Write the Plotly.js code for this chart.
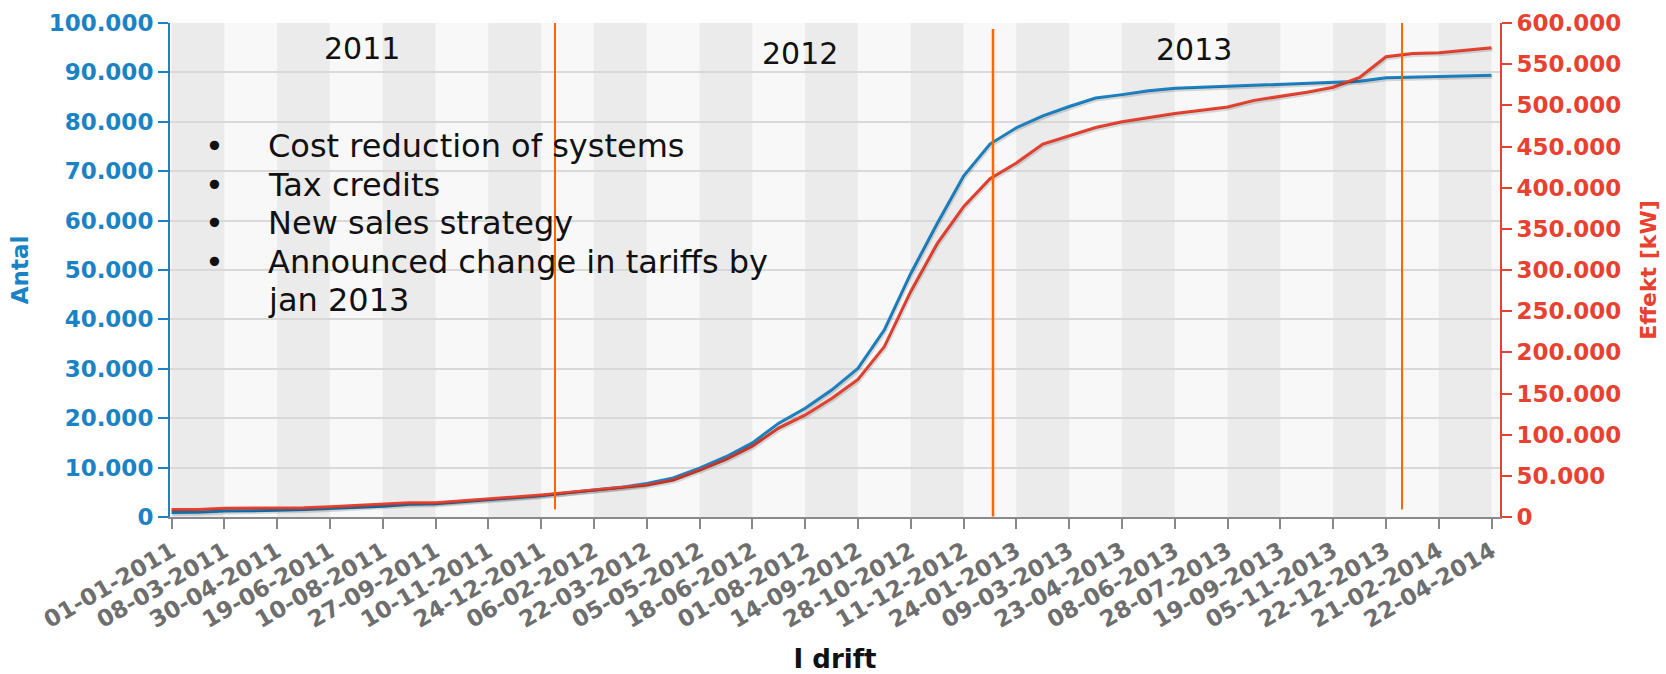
<!DOCTYPE html>
<html>
<head>
<meta charset="utf-8">
<script src="https://cdn.plot.ly/plotly-3.0.1.min.js"></script>
<style>html,body{margin:0;padding:0;background:#fff;}#chart{width:1666px;height:674px;}</style>
</head>
<body>
<div id="chart"></div>
<script>
// Tick labels shown on the x axis (dd-mm-yyyy)
const tickDates = ["01-01-2011","08-03-2011","30-04-2011","19-06-2011","10-08-2011","27-09-2011","10-11-2011","24-12-2011",
  "06-02-2012","22-03-2012","05-05-2012","18-06-2012","01-08-2012","14-09-2012","28-10-2012","11-12-2012",
  "24-01-2013","09-03-2013","23-04-2013","08-06-2013","28-07-2013","19-09-2013","05-11-2013","22-12-2013",
  "21-02-2014","22-04-2014"];

// Sample dates (tick dates plus one reading between each pair)
const sampleDates = ["01-01-2011","03-02-2011","08-03-2011","03-04-2011","30-04-2011","25-05-2011","19-06-2011","15-07-2011",
  "10-08-2011","03-09-2011","27-09-2011","19-10-2011","10-11-2011","02-12-2011","24-12-2011","15-01-2012",
  "06-02-2012","28-02-2012","22-03-2012","13-04-2012","05-05-2012","27-05-2012","18-06-2012","10-07-2012",
  "01-08-2012","23-08-2012","14-09-2012","06-10-2012","28-10-2012","19-11-2012","11-12-2012","02-01-2013",
  "24-01-2013","15-02-2013","09-03-2013","31-03-2013","23-04-2013","16-05-2013","08-06-2013","03-07-2013",
  "28-07-2013","23-08-2013","19-09-2013","12-10-2013","05-11-2013","28-11-2013","22-12-2013","21-01-2014",
  "21-02-2014","23-03-2014","22-04-2014"];

// Antal (number of installations)
const antal = [900,950,1200,1250,1350,1500,1700,2000,2200,2600,2700,3100,3500,3900,4300,4900,
  5400,6000,6800,7900,9900,12200,15000,19000,22000,25700,30100,37900,49300,59400,69000,75500,
  78800,81200,83100,84800,85500,86300,86800,87000,87200,87300,87500,87700,87900,88200,88900,89000,
  89200,89300,89400];

// Effekt [kW] (installed capacity)
const effektKW = [9000,9200,10700,10800,11100,11300,12300,13900,14800,17200,17400,20000,22000,24400,26800,30000,
  32500,35700,39000,45000,57000,70000,86000,108000,124000,144000,167000,207000,274000,332000,377000,411000,
  430000,453000,463000,473000,480000,485000,490000,494000,498000,506000,511000,516000,522000,534000,559000,563000,
  564000,567000,570000];

const yearLabels = ["2011","2012","2013"];
const bulletLines = ["Cost reduction of systems","Tax credits","New sales strategy","Announced change in tariffs by","jan 2013"];

// ---------- layout / styling ----------
const W = 1666, H = 674;
const L = 170, R = 1500, T = 23, B = 517.5;
const perCat = 26.4;               // px per category slot
const firstTickPx = 171.5;
const catAt = px => (px - firstTickPx) / perCat;
const px2paperX = px => (px - L) / (R - L);
const px2paperY = py => (B - py) / (B - T);
const xr = [catAt(L), catAt(R)];

const BLUE = '#1b82c4', RED = '#e8412f', ORANGE = '#ff6600';
const FONT = 'DejaVu Sans, Verdana, sans-serif';

const shadowShiftX = 1 / perCat;
const yPx = 100000 / (B - T), y2Px = 600000 / (B - T);

const traces = [
  {x: sampleDates, y: antal, type: 'scatter', mode: 'lines', xaxis: 'x2', yaxis: 'y3',
   line: {color: 'rgba(0,0,0,0.14)', width: 3}, hoverinfo: 'skip', showlegend: false},
  {x: sampleDates, y: effektKW, type: 'scatter', mode: 'lines', xaxis: 'x2', yaxis: 'y4',
   line: {color: 'rgba(0,0,0,0.14)', width: 3}, hoverinfo: 'skip', showlegend: false},
  {x: sampleDates, y: antal, type: 'scatter', mode: 'lines', name: 'Antal',
   line: {color: BLUE, width: 3}, showlegend: false},
  {x: sampleDates, y: effektKW, type: 'scatter', mode: 'lines', name: 'Effekt [kW]', yaxis: 'y2',
   line: {color: RED, width: 3}, showlegend: false}
];

const shapes = [];
// alternating vertical bands (dark from even tick to the next tick)
for (let k = 0; k < tickDates.length; k += 2) {
  shapes.push({type: 'rect', xref: 'x', yref: 'paper', x0: 2 * k, x1: 2 * k + 2, y0: 0, y1: 1,
    fillcolor: '#ebebeb', line: {width: 0}, layer: 'below'});
}
// orange divider lines
const dividers = [{px: 555, top: 23, bottom: 510, w: 2}, {px: 993, top: 29, bottom: 517, w: 2.5}, {px: 1402, top: 23, bottom: 510, w: 2}];
dividers.forEach(d => shapes.push({type: 'line', xref: 'x', yref: 'paper', x0: catAt(d.px), x1: catAt(d.px),
  y0: px2paperY(d.bottom), y1: px2paperY(d.top), line: {color: ORANGE, width: d.w}, layer: 'above'}));

const annotations = [];
const yearPos = [{px: 362, py: 49}, {px: 800, py: 54}, {px: 1194, py: 50}];
yearLabels.forEach((t, i) => annotations.push({text: t, xref: 'paper', yref: 'paper',
  x: px2paperX(yearPos[i].px), y: px2paperY(yearPos[i].py), xanchor: 'center', yanchor: 'middle',
  showarrow: false, font: {family: FONT, size: 30, color: '#111'}}));
const lineY = [146, 185, 223, 262, 300];
bulletLines.forEach((t, i) => {
  if (i < 4) annotations.push({text: '•', xref: 'paper', yref: 'paper', x: px2paperX(214), y: px2paperY(lineY[i]),
    xanchor: 'center', yanchor: 'middle', showarrow: false, font: {family: FONT, size: 32, color: '#111'}});
  annotations.push({text: t, xref: 'paper', yref: 'paper', x: px2paperX(266), y: px2paperY(lineY[i]),
    xanchor: 'left', yanchor: 'middle', showarrow: false, font: {family: FONT, size: 32, color: '#111'}});
});

const layout = {
  width: W, height: H,
  margin: {l: L, r: W - R, t: T, b: H - B, pad: 0},
  paper_bgcolor: '#ffffff', plot_bgcolor: '#f8f8f8',
  separators: ',.',
  showlegend: false,
  xaxis: {type: 'category', categoryorder: 'array', categoryarray: sampleDates, range: xr,
    tickmode: 'array', tickvals: tickDates, ticktext: tickDates, tickangle: -30,
    tickfont: {family: FONT, size: 23, color: '#6e6e6e', weight: 'bold'},
    ticks: 'outside', ticklen: 10, tickwidth: 2, tickcolor: '#888',
    showline: true, linecolor: '#8a8a8a', linewidth: 2, showgrid: false, zeroline: false,
    title: {text: 'I drift', font: {family: FONT, size: 26, color: '#111', weight: 'bold'}, standoff: 28}},
  xaxis2: {type: 'category', categoryorder: 'array', categoryarray: sampleDates,
    range: [xr[0] - shadowShiftX, xr[1] - shadowShiftX], overlaying: 'x', visible: false},
  yaxis: {range: [0, 100000], dtick: 10000, tickformat: ',d',
    tickfont: {family: FONT, size: 23, color: BLUE, weight: 'bold'},
    ticks: 'outside', ticklen: 10, tickwidth: 2, tickcolor: BLUE,
    showline: true, linecolor: BLUE, linewidth: 2, showgrid: true, gridcolor: '#d9d9d9', gridwidth: 2, zeroline: false,
    title: {text: 'Antal', font: {family: FONT, size: 23, color: BLUE, weight: 'bold'}, standoff: 14}},
  yaxis2: {range: [0, 600000], dtick: 50000, tickformat: ',d', overlaying: 'y', side: 'right',
    tickfont: {family: FONT, size: 23, color: RED, weight: 'bold'},
    ticks: 'outside', ticklen: 10, tickwidth: 2, tickcolor: RED,
    showline: true, linecolor: RED, linewidth: 2, showgrid: false, zeroline: false,
    title: {text: 'Effekt [kW]', font: {family: FONT, size: 22, color: RED, weight: 'bold'}, standoff: 20}},
  yaxis3: {range: [2 * yPx, 100000 + 2 * yPx], overlaying: 'y', visible: false},
  yaxis4: {range: [2 * y2Px, 600000 + 2 * y2Px], overlaying: 'y', visible: false},
  shapes: shapes,
  annotations: annotations
};

Plotly.newPlot('chart', traces, layout, {displayModeBar: false, responsive: false});
</script>
</body>
</html>
